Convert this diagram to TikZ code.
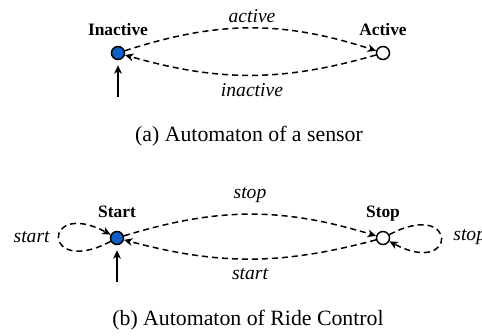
\documentclass[tikz,border=0pt]{standalone}
\usepackage{fontspec}
\setmainfont{Liberation Serif}
\usetikzlibrary{arrows.meta}
\definecolor{stateblue}{RGB}{17,96,200}
\begin{document}
\begin{tikzpicture}[x=0.5pt,y=0.5pt,
  state/.style={circle,draw,line width=0.75pt,minimum size=6.5pt,inner sep=0pt},
  startstate/.style={state,fill=stateblue},
  plainstate/.style={state,fill=white},
  statename/.style={font=\fontsize{8.7}{10}\selectfont\bfseries,anchor=base,inner sep=0pt},
  eventname/.style={font=\fontsize{9.8}{11}\selectfont\itshape,inner sep=0pt},
  caption/.style={font=\fontsize{10.9}{13}\selectfont,anchor=base,inner sep=0pt},
  tip/.style={-{Stealth[length=4.2pt,width=3.8pt,inset=1.2pt]}},
  trans/.style={tip,line width=0.75pt,dash pattern=on 3pt off 2pt},
  entry/.style={tip,line width=0.75pt,shorten >=2.5pt}]
\useasboundingbox (0,0) rectangle (482,336);

% (a) sensor automaton
\node[startstate] (inactive) at (118,283) {};
\node[plainstate] (active) at (383,283) {};
\node[statename] (inactivename) at (118,300) {Inactive};
\node[statename] (activename) at (383,300) {Active};
\coordinate (entrya) at (118,239);
\draw[entry] (entrya) -- (inactive);
\draw[trans] (inactive) to[bend left=18] (active);
\draw[trans] (active) to[bend left=16] (inactive);
\node[eventname,anchor=base] (evactive) at (252,313) {active};
\node[eventname,anchor=base] (evinactive) at (252,239) {inactive};
\node[caption] (capa) at (249,194) {(a) Automaton of a sensor};

% (b) ride control automaton
\node[startstate] (start) at (117,98) {};
\node[plainstate] (stop) at (383,98) {};
\node[statename] (startname) at (117,118) {Start};
\node[statename] (stopname) at (383,118) {Stop};
\coordinate (entryb) at (117,54);
\draw[entry] (entryb) -- (start);
\draw[trans] (start) to[bend left=17] (stop);
\draw[trans] (stop) to[bend left=15] (start);
\draw[trans] (start) to[out=208,in=152,distance=39pt] (start);
\draw[trans] (stop) to[out=28,in=-28,distance=39pt] (stop);
\node[eventname,anchor=base] (evstop) at (250,137) {stop};
\node[eventname,anchor=base] (evstart) at (250,56) {start};
\node[eventname,anchor=base east] (evstartloop) at (50,93) {start};
\node[eventname,anchor=base west] (evstoploop) at (453,95) {stop};
\node[caption] (capb) at (248,10) {(b) Automaton of Ride Control};
\end{tikzpicture}
\end{document}
